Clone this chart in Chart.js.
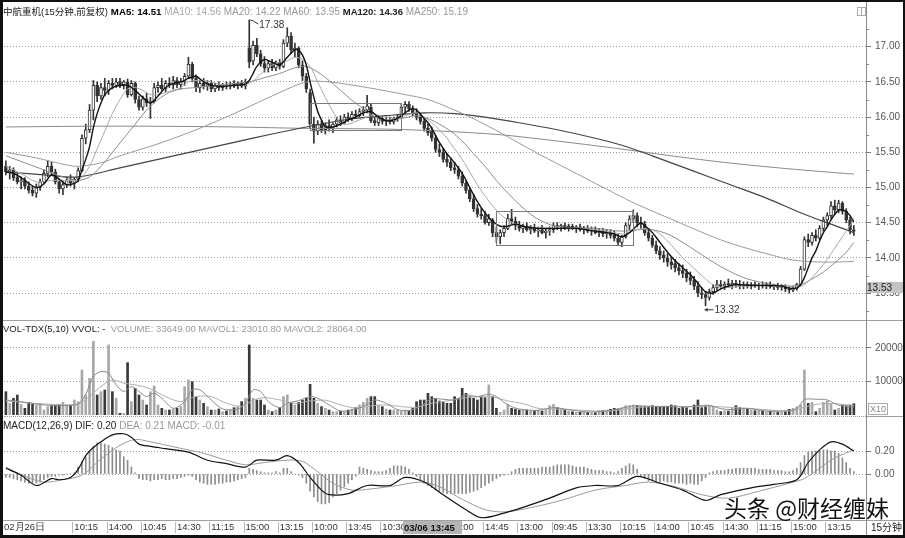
<!DOCTYPE html>
<html><head><meta charset="utf-8">
<script src="https://cdn.jsdelivr.net/npm/chart.js@4.4.1/dist/chart.umd.min.js"></script>
<style>
body{margin:0;background:#fff;}
#wrap{position:relative;width:905px;height:538px;overflow:hidden;background:#fff;font-family:"Liberation Sans",Arial,"Noto Sans CJK SC",sans-serif;}
canvas{position:absolute;left:0;}
.t{position:absolute;white-space:pre;font-size:10px;line-height:12px;}
.ln{position:absolute;}
</style></head><body>
<div id="wrap">
<canvas id="cPrice" width="905" height="321" style="top:0"></canvas>
<canvas id="cVol" width="905" height="96" style="top:321px"></canvas>
<canvas id="cMacd" width="905" height="121" style="top:417px"></canvas>

<div class="ln" style="left:0;top:320px;width:905px;height:1px;background:#a0a0a0"></div>
<div class="ln" style="left:4px;top:416px;width:862px;height:0;border-top:1px dotted #999"></div>
<div class="ln" style="left:866px;top:416px;width:39px;height:1px;background:#a0a0a0"></div>
<div class="ln" style="left:0;top:520px;width:905px;height:1px;background:#a0a0a0"></div>
<div class="ln" style="left:866px;top:0;width:1px;height:536px;background:#8a8a8a"></div>
<div class="ln" style="left:0;top:0;width:905px;height:2px;background:#111"></div>
<div class="ln" style="left:0;top:0;width:3px;height:538px;background:#111"></div>
<div class="ln" style="left:903px;top:0;width:2px;height:538px;background:#111"></div>
<div class="ln" style="left:0;top:535px;width:905px;height:3px;background:#111"></div>

<div class="ln" style="left:857px;top:7px;width:7px;height:7px;border:1px solid #aaa"></div>
<div class="ln" style="left:861px;top:7px;width:1px;height:9px;background:#aaa"></div>

<div class="t" style="left:3px;top:6px"><span style="color:#222;font-size:9.5px">中航重机(15分钟,前复权)</span> <span style="color:#000;font-weight:bold;font-size:9.7px">MA5: 14.51</span> <span style="color:#aaa">MA10: 14.56</span> <span style="color:#999">MA20: 14.22</span> <span style="color:#999">MA60: 13.95</span> <span style="color:#222;font-weight:bold;font-size:9.5px">MA120: 14.36</span> <span style="color:#999">MA250: 15.19</span></div>

<div class="t" style="left:3px;top:323px;font-size:9.5px"><span style="color:#222">VOL-TDX(5,10) VVOL: -</span>  <span style="color:#999">VOLUME: 33649.00 MAVOL1: 23010.80 MAVOL2: 28064.00</span></div>
<div class="t" style="left:868px;top:403px;color:#888;font-size:9px;line-height:10px;border:1px solid #aaa;padding:0 1px">X10</div>

<div class="t" style="left:3px;top:420px"><span style="color:#222">MACD(12,26,9) DIF: 0.20</span> <span style="color:#999">DEA: 0.21 MACD: -0.01</span></div>

<div class="t" style="left:724px;top:493px;font-size:23px;line-height:28px;color:#111;font-family:'Noto Sans CJK SC',sans-serif">头条 @财经缠妹</div>
<div class="t" style="left:871px;top:522px;color:#222">15分钟</div>
</div>
<script>
// ---------- price data (15-minute bars) ----------
const O = [
15.30,15.22,15.25,15.14,15.08,15.10,15.02,14.96,14.92,15.00,15.08,15.20,15.30,15.22,15.08,14.98,
15.04,15.10,15.06,15.12,15.24,15.70,15.82,16.10,16.45,16.30,16.42,16.38,16.48,16.45,16.50,16.46,
16.50,16.32,16.48,16.25,16.14,16.26,16.20,16.22,16.42,16.45,16.40,16.48,16.46,16.52,16.46,16.50,
16.58,16.75,16.55,16.42,16.48,16.44,16.48,16.40,16.45,16.42,16.46,16.44,16.46,16.45,16.48,16.44,
16.98,16.80,17.02,16.90,16.76,16.70,16.76,16.70,16.78,16.72,17.05,17.15,16.95,16.98,16.74,16.58,
16.35,15.90,15.80,15.90,15.82,15.88,15.84,15.90,15.96,15.92,16.00,15.98,16.04,16.02,16.08,16.10,
16.14,15.95,15.92,15.98,15.94,15.96,15.93,15.98,16.00,16.14,16.18,16.12,16.06,16.00,15.94,15.84,
15.80,15.70,15.54,15.50,15.40,15.36,15.28,15.25,15.16,15.06,14.96,14.84,14.70,14.62,14.60,14.50,
14.54,14.36,14.30,14.36,14.42,14.56,14.52,14.46,14.42,14.45,14.40,14.42,14.38,14.40,14.36,14.38,
14.40,14.46,14.44,14.46,14.42,14.45,14.42,14.44,14.40,14.42,14.38,14.40,14.36,14.38,14.34,14.36,
14.32,14.28,14.22,14.30,14.46,14.55,14.60,14.50,14.48,14.36,14.28,14.18,14.10,14.04,14.00,13.94,
13.92,13.86,13.82,13.78,13.72,13.68,13.60,13.50,13.48,13.44,13.52,13.58,13.62,13.60,13.63,13.62,
13.64,13.62,13.60,13.62,13.60,13.62,13.60,13.61,13.60,13.62,13.59,13.60,13.58,13.59,13.56,13.54,
13.57,13.62,13.84,14.26,14.22,14.32,14.28,14.42,14.54,14.60,14.74,14.68,14.78,14.66,14.54,14.40];
const H = [
15.38,15.30,15.28,15.20,15.15,15.14,15.08,15.02,15.05,15.12,15.25,15.38,15.36,15.26,15.12,15.08,
15.15,15.18,15.14,15.28,15.75,15.90,16.18,16.52,16.50,16.48,16.55,16.52,16.55,16.55,16.55,16.52,
16.54,16.52,16.50,16.30,16.30,16.34,16.28,16.48,16.50,16.55,16.52,16.56,16.58,16.56,16.55,16.62,
16.85,16.78,16.60,16.52,16.55,16.52,16.52,16.48,16.50,16.48,16.50,16.50,16.52,16.50,16.52,16.54,
17.38,17.08,17.12,16.95,16.86,16.80,16.82,16.80,16.82,17.10,17.27,17.20,17.05,17.00,16.80,16.62,
16.40,16.00,15.95,15.95,15.92,15.96,15.92,16.00,16.02,16.04,16.06,16.08,16.10,16.12,16.15,16.31,
16.18,16.00,16.02,16.02,16.00,16.00,16.00,16.04,16.18,16.22,16.22,16.16,16.12,16.05,15.98,15.90,
15.86,15.74,15.62,15.56,15.48,15.42,15.36,15.30,15.22,15.10,15.00,14.90,14.76,14.70,14.66,14.62,
14.56,14.44,14.40,14.46,14.62,14.69,14.58,14.52,14.48,14.50,14.46,14.48,14.44,14.46,14.42,14.44,
14.50,14.50,14.48,14.50,14.48,14.48,14.46,14.48,14.45,14.46,14.44,14.44,14.42,14.42,14.40,14.40,
14.38,14.34,14.32,14.50,14.60,14.68,14.64,14.58,14.52,14.42,14.32,14.24,14.16,14.10,14.06,14.00,
13.98,13.92,13.90,13.84,13.80,13.74,13.66,13.58,13.52,13.56,13.62,13.68,13.68,13.66,13.70,13.68,
13.68,13.68,13.66,13.66,13.65,13.66,13.64,13.66,13.65,13.66,13.63,13.64,13.62,13.62,13.60,13.60,
13.64,13.88,14.30,14.34,14.36,14.40,14.46,14.58,14.64,14.80,14.82,14.82,14.80,14.70,14.58,14.46];
const L = [
15.18,15.12,15.10,15.05,14.98,14.98,14.92,14.88,14.86,14.96,15.05,15.15,15.18,15.05,14.92,14.90,
15.00,15.02,14.98,15.08,15.22,15.62,15.78,15.96,16.22,16.25,16.30,16.32,16.40,16.42,16.42,16.40,
16.28,16.30,16.20,16.10,16.10,16.15,15.98,16.20,16.35,16.38,16.36,16.42,16.40,16.42,16.40,16.45,
16.55,16.50,16.36,16.35,16.40,16.38,16.36,16.36,16.38,16.38,16.40,16.40,16.42,16.40,16.42,16.40,
16.70,16.74,16.86,16.72,16.64,16.64,16.66,16.66,16.68,16.70,17.00,16.90,16.85,16.70,16.52,16.35,
15.85,15.63,15.75,15.78,15.76,15.80,15.78,15.86,15.88,15.90,15.94,15.95,15.98,16.00,16.02,16.06,
15.92,15.88,15.88,15.90,15.88,15.90,15.90,15.94,15.98,16.06,16.08,16.02,15.96,15.90,15.80,15.74,
15.66,15.50,15.44,15.36,15.30,15.24,15.20,15.12,15.02,14.92,14.80,14.66,14.58,14.55,14.48,14.46,
14.30,14.22,14.20,14.30,14.40,14.48,14.40,14.38,14.36,14.38,14.34,14.36,14.30,14.34,14.28,14.32,
14.36,14.40,14.38,14.40,14.38,14.40,14.36,14.38,14.34,14.36,14.32,14.34,14.30,14.30,14.28,14.28,
14.24,14.18,14.16,14.28,14.40,14.50,14.44,14.42,14.32,14.24,14.15,14.06,13.98,13.94,13.88,13.84,
13.80,13.76,13.72,13.66,13.62,13.55,13.45,13.42,13.32,13.40,13.48,13.54,13.56,13.55,13.58,13.56,
13.58,13.56,13.56,13.57,13.56,13.58,13.55,13.57,13.56,13.57,13.55,13.55,13.54,13.52,13.50,13.52,
13.54,13.60,13.82,14.16,14.18,14.24,14.26,14.38,14.46,14.56,14.62,14.64,14.62,14.50,14.34,14.32];
const C = [
15.22,15.25,15.14,15.08,15.10,15.02,14.96,14.92,15.00,15.08,15.20,15.30,15.22,15.08,14.98,15.04,
15.10,15.06,15.12,15.24,15.70,15.82,16.10,16.45,16.30,16.42,16.38,16.48,16.45,16.50,16.46,16.50,
16.32,16.48,16.25,16.14,16.26,16.20,16.22,16.42,16.45,16.40,16.48,16.46,16.52,16.46,16.50,16.58,
16.75,16.55,16.42,16.48,16.44,16.48,16.40,16.45,16.42,16.46,16.44,16.46,16.45,16.48,16.44,16.50,
16.78,17.02,16.90,16.76,16.70,16.76,16.70,16.78,16.72,17.05,17.15,16.95,16.98,16.74,16.58,16.40,
15.90,15.80,15.90,15.82,15.88,15.84,15.90,15.96,15.92,16.00,15.98,16.04,16.02,16.08,16.10,16.16,
15.95,15.92,15.98,15.94,15.96,15.93,15.98,16.00,16.14,16.18,16.12,16.06,16.00,15.94,15.84,15.78,
15.70,15.54,15.50,15.40,15.36,15.28,15.25,15.16,15.06,14.96,14.84,14.70,14.62,14.60,14.50,14.56,
14.36,14.30,14.36,14.42,14.56,14.52,14.46,14.42,14.45,14.40,14.42,14.38,14.40,14.36,14.38,14.40,
14.46,14.44,14.46,14.42,14.45,14.42,14.44,14.40,14.42,14.38,14.40,14.36,14.38,14.34,14.36,14.32,
14.28,14.22,14.30,14.46,14.55,14.60,14.50,14.48,14.36,14.28,14.18,14.10,14.04,14.00,13.94,13.90,
13.86,13.82,13.78,13.72,13.68,13.60,13.50,13.48,13.44,13.52,13.58,13.62,13.60,13.63,13.62,13.64,
13.62,13.60,13.62,13.60,13.62,13.60,13.61,13.60,13.62,13.59,13.60,13.58,13.59,13.56,13.54,13.57,
13.62,13.84,14.26,14.22,14.32,14.28,14.42,14.54,14.60,14.74,14.68,14.78,14.66,14.54,14.40,14.38];

// moving averages: [barIndex, value]
const MA5 = [[0,15.22],[2,15.2],[4,15.14],[6,15.06],[8,15.0],[10,15.05],[12,15.18],[14,15.12],[16,15.04],[18,15.06],[19,15.1],[20,15.25],[21,15.4],[22,15.58],[23,15.85],[24,16.05],[25,16.2],[26,16.32],[28,16.42],[30,16.45],[32,16.45],[34,16.38],[36,16.28],[38,16.2],[40,16.3],[42,16.42],[44,16.48],[46,16.5],[48,16.55],[50,16.58],[52,16.5],[54,16.45],[56,16.44],[58,16.44],[60,16.45],[62,16.46],[63,16.47],[64,16.52],[65,16.62],[66,16.72],[68,16.82],[70,16.78],[72,16.74],[74,16.85],[76,16.96],[77,16.95],[78,16.88],[79,16.74],[80,16.5],[81,16.28],[82,16.08],[83,15.96],[84,15.86],[86,15.86],[88,15.9],[90,15.96],[92,16.0],[94,16.06],[96,16.08],[98,16.0],[100,15.95],[102,15.96],[104,16.02],[106,16.1],[107,16.12],[108,16.1],[110,15.98],[111,15.92],[112,15.84],[114,15.64],[116,15.48],[118,15.35],[120,15.2],[122,15.0],[124,14.8],[126,14.64],[128,14.52],[130,14.45],[132,14.45],[134,14.48],[136,14.45],[140,14.42],[145,14.42],[150,14.42],[155,14.38],[158,14.36],[160,14.34],[162,14.3],[164,14.36],[166,14.46],[167,14.5],[168,14.46],[170,14.36],[172,14.22],[174,14.08],[176,13.96],[178,13.86],[180,13.76],[182,13.64],[184,13.52],[186,13.5],[188,13.56],[190,13.6],[192,13.62],[196,13.61],[200,13.61],[204,13.6],[206,13.57],[208,13.57],[209,13.62],[210,13.72],[211,13.86],[212,14.0],[213,14.1],[214,14.24],[215,14.36],[216,14.44],[217,14.54],[218,14.62],[219,14.68],[220,14.68],[221,14.66],[222,14.6],[223,14.51]];
const MA10 = [[0,15.3],[4,15.2],[8,15.08],[12,15.1],[16,15.1],[19,15.1],[20,15.15],[22,15.3],[24,15.55],[26,15.8],[28,16.05],[30,16.25],[32,16.4],[34,16.42],[36,16.38],[38,16.32],[40,16.32],[42,16.35],[44,16.38],[46,16.42],[48,16.5],[50,16.52],[52,16.52],[54,16.5],[56,16.47],[58,16.45],[60,16.45],[62,16.46],[64,16.48],[66,16.56],[68,16.66],[70,16.74],[72,16.78],[74,16.8],[76,16.85],[78,16.82],[80,16.72],[82,16.5],[84,16.28],[86,16.08],[88,15.92],[90,15.9],[92,15.94],[94,15.98],[96,16.02],[98,16.03],[100,16.0],[102,15.98],[104,15.99],[106,16.04],[108,16.06],[110,16.0],[112,15.92],[114,15.82],[116,15.7],[118,15.55],[120,15.4],[122,15.22],[124,15.04],[126,14.88],[128,14.74],[130,14.62],[132,14.54],[134,14.48],[136,14.45],[140,14.43],[145,14.42],[150,14.42],[155,14.4],[160,14.36],[162,14.34],[164,14.36],[166,14.4],[168,14.42],[170,14.4],[172,14.34],[174,14.24],[176,14.12],[178,14.0],[180,13.9],[182,13.8],[184,13.7],[186,13.62],[188,13.58],[190,13.58],[194,13.6],[200,13.61],[206,13.59],[208,13.59],[210,13.62],[212,13.72],[214,13.84],[216,13.98],[218,14.14],[220,14.3],[222,14.46],[223,14.56]];
const MA20 = [[0,15.45],[5,15.35],[10,15.25],[15,15.15],[19,15.1],[22,15.15],[25,15.3],[28,15.5],[31,15.7],[34,15.9],[37,16.1],[40,16.25],[43,16.35],[46,16.4],[50,16.42],[55,16.45],[60,16.48],[64,16.5],[68,16.56],[72,16.62],[76,16.7],[79,16.72],[82,16.64],[85,16.52],[88,16.38],[91,16.24],[94,16.12],[97,16.0],[100,15.96],[104,15.98],[108,16.02],[111,15.98],[114,15.9],[117,15.8],[120,15.66],[123,15.48],[126,15.3],[129,15.1],[132,14.92],[135,14.76],[138,14.62],[141,14.52],[144,14.46],[148,14.43],[155,14.42],[162,14.38],[166,14.4],[170,14.4],[174,14.34],[178,14.22],[182,14.08],[186,13.94],[190,13.82],[194,13.72],[198,13.66],[202,13.62],[206,13.6],[209,13.62],[212,13.7],[215,13.8],[218,13.93],[221,14.08],[223,14.22]];
const MA60 = [[0,15.5],[8,15.42],[16,15.32],[19,15.3],[25,15.35],[30,15.45],[40,15.62],[50,15.82],[60,16.05],[70,16.3],[79,16.5],[85,16.5],[95,16.42],[105,16.32],[111,16.25],[118,16.1],[124,15.95],[130,15.78],[140,15.48],[150,15.2],[160,14.92],[166,14.76],[175,14.55],[185,14.32],[191,14.2],[200,14.06],[207,13.97],[215,13.94],[223,13.95]];
const MA120 = [[0,15.22],[10,15.18],[19,15.15],[30,15.28],[40,15.4],[50,15.52],[60,15.64],[70,15.76],[79,15.86],[90,15.97],[100,16.02],[110,16.06],[118,16.05],[126,16.0],[135,15.92],[145,15.82],[155,15.7],[162,15.6],[170,15.45],[180,15.25],[190,15.05],[200,14.85],[210,14.62],[217,14.48],[223,14.36]];
const MA250 = [[0,15.86],[20,15.87],[40,15.87],[60,15.86],[79,15.84],[100,15.83],[115,15.8],[130,15.75],[145,15.66],[160,15.56],[175,15.45],[190,15.35],[205,15.27],[223,15.19]];

// ---------- volume ----------
const VOL = [
6965,3480,4975,5970,3180,1990,3780,3180,2985,3480,1490,2490,2985,2985,3180,3780,
2985,2985,4480,3980,13430,5970,10945,22000,5970,6965,7460,20900,6965,4975,500,500,
15620,3980,7960,5970,4480,2985,6965,8660,2985,1990,1490,1490,1790,1990,2490,8460,
10450,9950,5470,4480,3480,2490,1490,1490,1790,995,1190,1490,2190,2490,3980,4975,
20900,4975,4480,4480,2985,1490,995,1490,2190,5470,5970,3480,2985,3780,4480,4975,
9150,4975,3480,2490,1990,1490,995,995,1190,995,1490,1790,2190,2985,3780,4975,
5470,5470,2985,2490,1790,1490,1490,1490,1190,1490,1190,1990,3980,4480,4480,6470,
5470,4975,4180,3780,3480,3480,5470,4975,7960,6470,5470,4975,4480,5470,5170,8955,
5470,1990,800,1490,3180,1990,1790,1490,1690,1490,1190,1290,1490,1190,1490,2790,
3180,2190,1790,1490,1190,995,800,800,995,800,700,700,1390,1290,1490,1690,
1990,1790,2190,2790,2790,2985,2790,2490,2490,2490,2790,2490,2490,2490,2490,2985,
2790,1990,2490,2190,1490,2985,4480,2190,2790,2790,2490,1490,995,1290,1190,1990,
2790,2190,1790,1690,1490,1290,1490,1190,995,1190,995,800,800,995,1690,1990,
2490,2985,13430,3480,3780,995,1990,3780,4180,3480,1490,1990,2985,2790,2985,3365];
const MAVOL1 = [[0,4500],[5,3800],[10,3000],[15,2800],[19,3300],[21,6200],[23,11500],[25,13000],[27,12500],[29,9000],[31,7000],[33,8500],[35,7000],[37,5500],[39,6500],[41,5000],[44,2000],[47,4000],[49,7500],[51,7500],[54,4500],[57,1800],[61,1800],[63,3500],[65,7500],[67,7000],[69,4000],[72,2200],[74,3500],[77,4300],[80,5500],[82,5000],[85,3000],[88,1200],[92,1700],[95,3200],[97,4500],[100,3500],[103,1600],[106,1400],[109,2600],[112,4800],[115,4700],[118,4500],[121,6000],[124,5500],[127,6200],[129,5500],[132,3000],[135,1800],[140,1400],[144,2200],[148,1600],[153,900],[157,1100],[161,1800],[165,2700],[170,2600],[175,2500],[179,2400],[182,2700],[185,2900],[188,1900],[191,1600],[195,2000],[200,1200],[205,1200],[208,1900],[210,4600],[213,4700],[216,4500],[219,2900],[223,2301]];
const MAVOL2 = [[0,4200],[10,3300],[19,3200],[22,5500],[25,8500],[28,10500],[31,9500],[34,9000],[38,7800],[42,5500],[46,4000],[50,5500],[54,5500],[58,3500],[62,2600],[65,4400],[68,5200],[72,4500],[76,3500],[80,4200],[84,4400],[88,3000],[92,2100],[96,2700],[100,3000],[104,2500],[108,2300],[112,3500],[116,4200],[120,5000],[124,5400],[128,5400],[132,4200],[136,3400],[140,2000],[146,1700],[152,1400],[158,1100],[163,1800],[168,2400],[174,2600],[180,2500],[185,2600],[190,2300],[196,1900],[202,1400],[207,1300],[210,2300],[214,3300],[218,3400],[223,2806]];

// ---------- MACD ----------
const MACD_HIST = [
-0.03,-0.03,-0.04,-0.05,-0.06,-0.07,-0.08,-0.08,-0.08,-0.07,
-0.05,-0.03,-0.02,-0.02,-0.01,-0.01,0.00,0.00,0.01,
0.06,0.11,0.15,0.19,0.24,0.27,0.27,0.26,0.25,0.23,0.21,0.20,0.15,0.12,0.06,0.01,
-0.04,-0.05,-0.05,-0.06,-0.05,-0.05,-0.04,-0.05,-0.05,-0.04,-0.04,-0.03,-0.02,-0.01,-0.02,-0.05,-0.07,-0.08,-0.09,-0.09,-0.09,-0.08,-0.08,-0.07,-0.07,-0.06,-0.05,-0.04,-0.03,
0.05,0.04,0.03,0.02,0.01,0.01,0.01,0.02,0.01,0.05,0.05,0.02,0.00,-0.01,
-0.03,-0.08,-0.15,-0.20,-0.24,-0.26,-0.26,-0.25,-0.20,-0.17,-0.14,-0.11,-0.08,-0.05,
-0.02,0.06,0.05,0.04,0.03,0.02,0.02,0.02,0.03,0.05,0.07,0.07,0.07,0.06,0.04,0.01,
-0.02,-0.05,-0.08,-0.10,-0.12,-0.14,-0.15,-0.16,-0.17,
-0.17,-0.17,-0.17,-0.17,-0.17,-0.16,-0.15,-0.14,-0.12,-0.10,-0.08,-0.06,-0.04,-0.02,-0.01,0.00,
0.02,0.04,0.05,0.05,0.05,0.05,0.05,0.05,0.06,0.06,0.06,0.07,0.08,0.08,0.08,0.08,0.07,0.06,0.06,0.06,0.05,0.04,0.03,0.03,0.03,0.02,0.02,0.01,
0.02,0.05,0.07,0.09,0.08,0.04,
-0.02,-0.04,-0.06,-0.06,-0.07,-0.07,-0.06,-0.07,-0.07,-0.08,-0.08,-0.08,-0.09,-0.08,-0.09,-0.09,-0.06,-0.03,
0.01,0.02,0.03,0.03,0.03,0.04,0.04,0.05,0.05,0.05,0.05,0.05,0.05,0.04,0.04,0.04,0.04,0.03,0.03,0.03,0.02,0.02,0.03,
0.05,0.10,0.16,0.19,0.20,0.20,0.20,0.21,0.21,0.20,0.20,0.18,0.14,0.10,0.05,0.02];
const DIF = [[0,0.05],[4,-0.01],[8,-0.10],[12,-0.04],[14,-0.05],[17,-0.03],[19,0.04],[21,0.16],[23,0.23],[25,0.28],[28,0.34],[31,0.35],[33,0.32],[35,0.26],[38,0.24],[42,0.22],[48,0.19],[53,0.12],[58,0.09],[63,0.06],[66,0.12],[71,0.12],[74,0.16],[77,0.10],[80,-0.03],[83,-0.14],[85,-0.18],[90,-0.17],[95,-0.10],[101,-0.10],[105,-0.03],[110,-0.07],[115,-0.18],[121,-0.31],[125,-0.38],[131,-0.34],[136,-0.29],[143,-0.21],[150,-0.12],[155,-0.10],[161,-0.10],[166,-0.02],[172,-0.08],[178,-0.14],[184,-0.23],[188,-0.18],[196,-0.12],[202,-0.09],[208,-0.05],[211,0.10],[214,0.21],[217,0.28],[220,0.26],[223,0.20]];
const DEA = [[0,0.06],[5,-0.02],[10,-0.07],[15,-0.05],[20,-0.01],[25,0.13],[30,0.25],[34,0.30],[38,0.28],[45,0.23],[52,0.18],[58,0.12],[63,0.08],[68,0.10],[74,0.12],[78,0.11],[82,0.02],[86,-0.08],[91,-0.14],[96,-0.13],[103,-0.10],[109,-0.07],[114,-0.11],[120,-0.22],[126,-0.31],[131,-0.33],[137,-0.30],[146,-0.23],[155,-0.14],[163,-0.10],[169,-0.07],[176,-0.11],[183,-0.18],[190,-0.21],[198,-0.15],[206,-0.08],[210,-0.04],[214,0.05],[218,0.14],[223,0.21]];

// ---------- axis labels / annotations ----------
const X_TICK_IDX = [-0.5,18,27,36,45,54,63,72,81,90,99,108,117,126,135,144,153,162,171,180,189,198,207,216];
const X_TICK_TEXT = ['02月26日','10:15','14:00','10:45','14:30','11:15','15:00','13:15','10:00','13:45','10:30','14:00','11:00','14:45','13:00','09:45','13:30','10:15','14:00','10:45','14:30','11:15','15:00','13:15'];
const CURSOR_IDX = 106, CURSOR_TEXT = '03/06 13:45';
const PRICE_TICKS = [13.5,14.0,14.5,15.0,15.5,16.0,16.5,17.0];
const VOL_TICKS = [10000,20000];
const MACD_TICKS = [0,0.2];
const BOXES = [[80,104,16.20,15.82],[129,165,14.66,14.18]];
const HIGH = [64,17.38], LOW = [184,13.32], LAST_PRICE = 13.53;

// ---------- setup ----------
const N = C.length, XMIN = -0.5, XMAX = 226.2;
const FONT = '"Liberation Sans", Arial, sans-serif';
Chart.defaults.font.family = FONT;
Chart.defaults.font.size = 10;
Chart.defaults.animation = false;
Chart.defaults.events = [];
Chart.defaults.plugins.legend.display = false;
Chart.defaults.plugins.tooltip.enabled = false;
const pts = a => a.map(p => ({x:p[0], y:p[1]}));
const isUp = i => C[i] >= O[i];
const idx = Array.from({length:N}, (_, i) => i);
const noPad = s => { s.paddingTop = 0; s.paddingBottom = 0; s.paddingLeft = 0; s.paddingRight = 0; };

function xHidden(){ return {type:'linear', min:XMIN, max:XMAX, offset:false, display:false, grid:{display:false, offset:false}}; }
function yRight(min, max, ticks, fmt){
  return {type:'linear', position:'right', min, max,
    afterFit: s => { s.width = 39; noPad(s); },
    afterBuildTicks: s => { s.ticks = ticks.map(v => ({value:v})); },
    ticks:{callback: v => fmt(v), color:'#555', font:{size:10}, padding:4, autoSkip:false},
    grid:{color:'#9a9a9a', lineWidth:1, drawTicks:true, tickLength:5, tickColor:'#777', tickBorderDash:[], tickWidth:1},
    border:{display:false, dash:[1,2]}};
}
function lineDs(data, color, width, order){
  return {type:'line', data:pts(data), borderColor:color, borderWidth:width, pointRadius:0, tension:0.3, fill:false, order};
}

// price chart
const pricePlugin = {id:'pricePlugin',
  afterDatasetsDraw(ch){
    const {ctx, scales:{x, y}} = ch;
    ctx.save();
    ctx.strokeStyle = '#7a7a7a'; ctx.lineWidth = 1;
    BOXES.forEach(b => {
      const x1 = Math.round(x.getPixelForValue(b[0])) + 0.5, x2 = Math.round(x.getPixelForValue(b[1])) + 0.5;
      const y1 = Math.round(y.getPixelForValue(b[2])) + 0.5, y2 = Math.round(y.getPixelForValue(b[3])) + 0.5;
      ctx.strokeRect(x1, y1, x2 - x1, y2 - y1);
    });
    ctx.fillStyle = '#333'; ctx.strokeStyle = '#333';
    ctx.font = '10px ' + FONT; ctx.textBaseline = 'middle';
    const hx = x.getPixelForValue(HIGH[0]), hy = y.getPixelForValue(HIGH[1]);
    ctx.beginPath(); ctx.moveTo(hx + 1, hy); ctx.lineTo(hx + 4, hy + 1); ctx.lineTo(hx + 9, hy + 4); ctx.stroke();
    ctx.fillText(HIGH[1].toFixed(2), hx + 10, hy + 5);
    const lx = x.getPixelForValue(LOW[0]), ly = y.getPixelForValue(LOW[1]) + 4;
    ctx.beginPath(); ctx.moveTo(lx - 1, ly); ctx.lineTo(lx + 8, ly); ctx.stroke();
    ctx.beginPath(); ctx.moveTo(lx - 1, ly); ctx.lineTo(lx + 2, ly - 2); ctx.lineTo(lx + 2, ly + 2); ctx.closePath(); ctx.fill();
    ctx.fillText(LOW[1].toFixed(2), lx + 9, ly);
    ctx.restore();
  },
  afterDraw(ch){
    const {ctx, scales:{y}, chartArea:a} = ch;
    ctx.save();
    ctx.strokeStyle = '#888'; ctx.lineWidth = 1;
    for (let v = 13.25; v < 17.5; v += 0.5) {
      const py = Math.round(y.getPixelForValue(v)) + 0.5;
      ctx.beginPath(); ctx.moveTo(a.right, py); ctx.lineTo(a.right + 3, py); ctx.stroke();
    }
    const py = Math.round(y.getPixelForValue(LAST_PRICE));
    ctx.fillStyle = '#c4c4c4'; ctx.fillRect(a.right + 1, py - 9, 38, 11);
    ctx.fillStyle = '#222'; ctx.font = '10px ' + FONT; ctx.textBaseline = 'middle';
    ctx.fillText(LAST_PRICE.toFixed(2), a.right + 1, py - 3);
    ctx.restore();
  }};

new Chart(document.getElementById('cPrice'), {
  type:'bar',
  data:{datasets:[
    lineDs(MA5, '#111', 1.4, 0),
    lineDs(MA10, '#a8a8a8', 1, 1),
    lineDs(MA20, '#8c8c8c', 1, 1),
    lineDs(MA60, '#9a9a9a', 1, 1),
    lineDs(MA120, '#444', 1.2, 1),
    lineDs(MA250, '#8a8a8a', 1, 1),
    {type:'bar', data:idx.map(i => ({x:i, y:[O[i], C[i]]})), grouped:false, barThickness:3, minBarLength:1,
     backgroundColor: c => isUp(c.dataIndex) ? '#ffffff' : '#333', borderColor:'#333', borderWidth:1, borderSkipped:false, order:2},
    {type:'bar', data:idx.map(i => ({x:i, y:[L[i], H[i]]})), grouped:false, barThickness:1,
     backgroundColor:'#333', borderWidth:0, order:3}
  ]},
  options:{responsive:false, animation:false,
    layout:{padding:{left:4, right:0, top:3, bottom:1}},
    scales:{x:xHidden(), y:yRight(13.118, 17.621, PRICE_TICKS, v => v.toFixed(2))}},
  plugins:[pricePlugin]
});

// volume chart
new Chart(document.getElementById('cVol'), {
  type:'bar',
  data:{datasets:[
    lineDs(MAVOL1, '#8a8a8a', 1, 0),
    lineDs(MAVOL2, '#b0b0b0', 1, 0),
    {type:'bar', data:idx.map(i => ({x:i, y:VOL[i]})), grouped:false, barThickness:2,
     backgroundColor: c => isUp(c.dataIndex) ? '#a8a8a8' : '#3a3a3a', borderWidth:0, order:2}
  ]},
  options:{responsive:false, animation:false,
    layout:{padding:{left:4, right:0, top:1, bottom:2}},
    scales:{x:xHidden(), y:yRight(0, 27761, VOL_TICKS, v => String(v))}}
});

// MACD chart
const tickText = {};
X_TICK_IDX.forEach((v, k) => { tickText[v] = X_TICK_TEXT[k]; });
const macdPlugin = {id:'macdPlugin',
  afterDraw(ch){
    const {ctx, scales:{x}, chartArea:a} = ch;
    ctx.save();
    ctx.strokeStyle = '#b8b8b8'; ctx.lineWidth = 1;
    X_TICK_IDX.forEach(v => {
      if (v < 0) return;
      const px = Math.round(x.getPixelForValue(v - 0.5)) + 0.5;
      ctx.beginPath(); ctx.moveTo(px, a.bottom + 3); ctx.lineTo(px, a.bottom + 14); ctx.stroke();
    });
    const cx = Math.round(x.getPixelForValue(CURSOR_IDX));
    ctx.fillStyle = '#b4b4b4'; ctx.fillRect(cx - 6, a.bottom + 2, 59, 13);
    ctx.fillStyle = '#111'; ctx.font = 'bold 9.5px ' + FONT; ctx.textBaseline = 'middle';
    ctx.fillText(CURSOR_TEXT, cx - 5, a.bottom + 9);
    ctx.restore();
  }};
new Chart(document.getElementById('cMacd'), {
  type:'bar',
  data:{datasets:[
    lineDs(DIF, '#111', 1.2, 0),
    lineDs(DEA, '#9a9a9a', 1, 0),
    {type:'bar', data:idx.map(i => ({x:i, y:MACD_HIST[i]})), grouped:false, barThickness:1,
     backgroundColor:'#8c8c8c', borderWidth:0, order:2}
  ]},
  options:{responsive:false, animation:false,
    layout:{padding:{left:4, right:0, top:1, bottom:0}},
    scales:{
      x:{type:'linear', min:XMIN, max:XMAX, offset:false,
        afterFit: s => { s.height = 19; noPad(s); },
        afterBuildTicks: s => { s.ticks = X_TICK_IDX.map(v => ({value:v})); },
        ticks:{callback: v => tickText[v] || '', autoSkip:false, maxRotation:0, minRotation:0, align:'start', padding:3, color:'#333', font:{size:9.5}},
        grid:{display:false, drawTicks:false, offset:false}, border:{display:false}},
      y:yRight(-0.3913, 0.4870, MACD_TICKS, v => v.toFixed(2))}},
  plugins:[macdPlugin]
});
</script>
</body></html>
